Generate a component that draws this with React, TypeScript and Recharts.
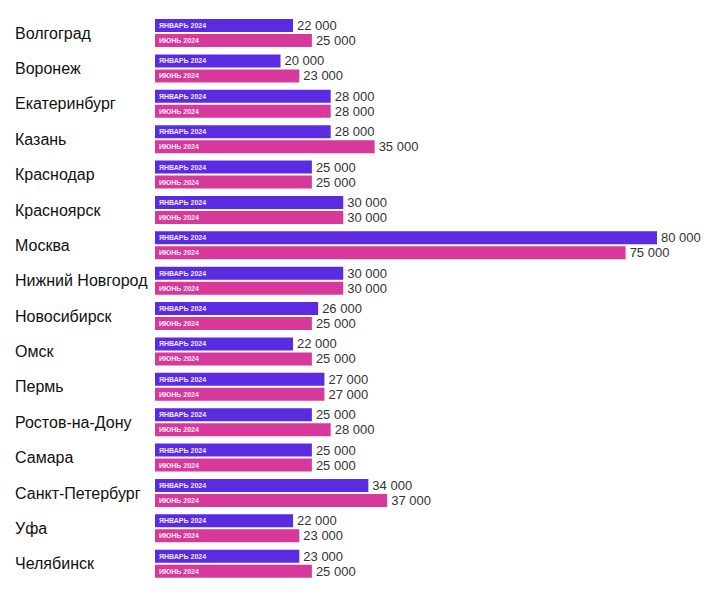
import React from 'react';
import { BarChart, Bar, XAxis, YAxis, LabelList } from 'recharts';

const cities = [
  'Волгоград', 'Воронеж', 'Екатеринбург', 'Казань', 'Краснодар', 'Красноярск', 'Москва',
  'Нижний Новгород', 'Новосибирск', 'Омск', 'Пермь', 'Ростов-на-Дону', 'Самара',
  'Санкт-Петербург', 'Уфа', 'Челябинск',
];
const janValues = [22000, 20000, 28000, 28000, 25000, 30000, 80000, 30000, 26000, 22000, 27000, 25000, 25000, 34000, 22000, 23000];
const junValues = [25000, 23000, 28000, 35000, 25000, 30000, 75000, 30000, 25000, 25000, 27000, 28000, 25000, 37000, 23000, 25000];
const seriesNames = ['ЯНВАРЬ 2024', 'ИЮНЬ 2024'];

const data = cities.map((city, i) => ({ city, jan: janValues[i], jun: junValues[i] }));

const fmt = (v: number) => String(v).replace(/\B(?=(\d{3})+(?!\d))/g, ' ');

const FONT = '"Liberation Sans", Arial, sans-serif';

const CityTick = (props: any) => {
  const { y, payload } = props;
  return (
    <text x={7} y={y} dy={6} textAnchor="start" fontFamily={FONT} fontSize={16} fill="#111">
      {payload.value}
    </text>
  );
};

const makeInner = (name: string, color: string) => (props: any) => {
  const { x, y, height } = props;
  return (
    <text x={Number(x) + 4} y={Number(y) + Number(height) / 2} dy={2.5} fontFamily={FONT} fontSize={7} fontWeight="bold" fill={color}>
      {name}
    </text>
  );
};

const ValueLabel = (props: any) => {
  const { x, y, width, height, value } = props;
  return (
    <text x={Number(x) + Number(width) + 4} y={Number(y) + Number(height) / 2} dy={4.5} fontFamily={FONT} fontSize={13} fill="#333">
      {fmt(Number(value))}
    </text>
  );
};

export default function App() {
  return (
    <div style={{ background: '#fff' }}>
      <BarChart
        width={712}
        height={590}
        data={data}
        layout="vertical"
        margin={{ top: 7, right: 63, bottom: 17, left: 0 }}
        barSize={13}
        barGap={2}
      >
        <XAxis type="number" domain={[0, 80000]} hide />
        <YAxis
          type="category"
          dataKey="city"
          width={147}
          axisLine={false}
          tickLine={false}
          tick={<CityTick />}
          interval={0}
        />
        <Bar dataKey="jan" fill="#5b2be2" isAnimationActive={false}>
          <LabelList dataKey="jan" content={makeInner(seriesNames[0], '#efe6ff')} />
          <LabelList dataKey="jan" content={<ValueLabel />} />
        </Bar>
        <Bar dataKey="jun" fill="#d7399a" isAnimationActive={false}>
          <LabelList dataKey="jun" content={makeInner(seriesNames[1], '#ffeaf5')} />
          <LabelList dataKey="jun" content={<ValueLabel />} />
        </Bar>
      </BarChart>
    </div>
  );
}
